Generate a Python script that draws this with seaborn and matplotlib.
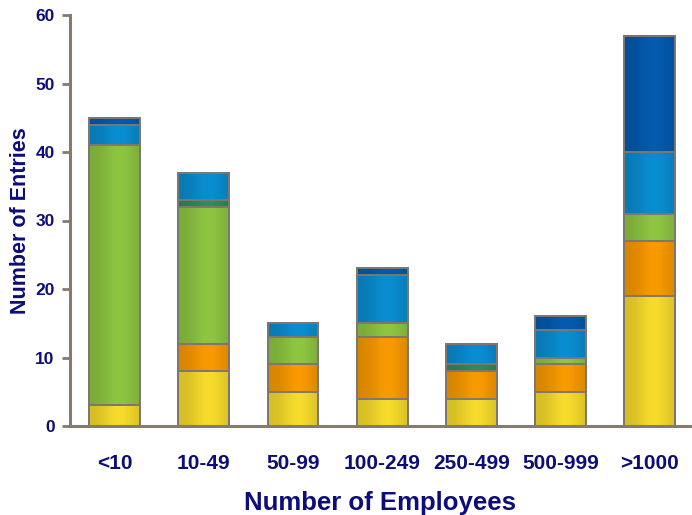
import matplotlib
matplotlib.use("Agg")
import matplotlib.pyplot as plt
import matplotlib.colors as mcolors
import seaborn as sns
import numpy as np
import pandas as pd

categories = ["<10", "10-49", "50-99", "100-249", "250-499", "500-999", ">1000"]
s_yellow = [3, 8, 5, 4, 4, 5, 19]
s_orange = [0, 4, 4, 9, 4, 4, 8]
s_green = [38, 20, 4, 2, 0, 1, 4]
s_teal = [0, 1, 0, 0, 1, 0, 0]
s_blue = [3, 4, 2, 7, 3, 4, 9]
s_darkblue = [1, 0, 0, 1, 0, 2, 17]
yticks = [0, 10, 20, 30, 40, 50, 60]

series = [s_yellow, s_orange, s_green, s_teal, s_blue, s_darkblue]
colors = ["#f7dc2c", "#f99a00", "#8ec642", "#2e8d5a", "#0a8ed2", "#045bb0"]

sns.set_theme(style="white")
plt.rcParams['font.family'] = ['Liberation Sans', 'DejaVu Sans']

fig = plt.figure(figsize=(6.92, 5.15), dpi=100)
ax = fig.add_axes([70/692, (515-426)/515, (690-70)/692, (426-15)/515])

cum = np.cumsum(np.array(series), axis=0)
navy = "#0c0c7a"
axcol = "#857a6e"
for i in range(len(series) - 1, -1, -1):
    df = pd.DataFrame({"cat": categories, "val": cum[i]})
    sns.barplot(data=df, x="cat", y="val", color=colors[i], saturation=1,
                width=0.57, edgecolor="#7d7770", linewidth=1.4, ax=ax, zorder=2)

# horizontal shading gradient on each bar segment
xs = np.linspace(0, 1, 64)
shade = 0.86 + 0.14 * np.exp(-((xs - 0.6) / 0.32) ** 2)
for p in list(ax.patches):
    fc = np.array(mcolors.to_rgb(p.get_facecolor()))
    x0, y0 = p.get_x(), p.get_y()
    w, h = p.get_width(), p.get_height()
    if h <= 0:
        continue
    img = np.clip(fc[None, None, :] * shade[None, :, None] / shade.max(), 0, 1)
    ax.imshow(img, extent=(x0, x0 + w, y0, y0 + h), aspect="auto",
              zorder=p.get_zorder() - 0.01, interpolation="bilinear")
    p.set_facecolor("none")
ax.set_aspect("auto")

ax.set_ylim(0, 60)
ax.set_xlim(-0.5, 6.45)
ax.set_yticks(yticks)
ax.set_yticklabels([str(t) for t in yticks], fontsize=12.5, fontweight="bold", color=navy)
ax.set_xticks(range(len(categories)))
ax.set_xticklabels(categories, fontsize=15, fontweight="bold", color=navy)
ax.tick_params(axis="y", direction="out", length=6, width=2, color=axcol, pad=5, left=True)
ax.tick_params(axis="x", length=0, pad=20)
ax.set_ylabel("Number of Entries", fontsize=15.5, fontweight="bold", color=navy, labelpad=3)
ax.set_xlabel("Number of Employees", fontsize=18.5, fontweight="bold", color=navy, labelpad=13)
for s in ["top", "right"]:
    ax.spines[s].set_visible(False)
for s in ["left", "bottom"]:
    ax.spines[s].set_color(axcol)
    ax.spines[s].set_linewidth(2.2)
    ax.spines[s].set_zorder(5)

fig.savefig("out.png", dpi=100)
